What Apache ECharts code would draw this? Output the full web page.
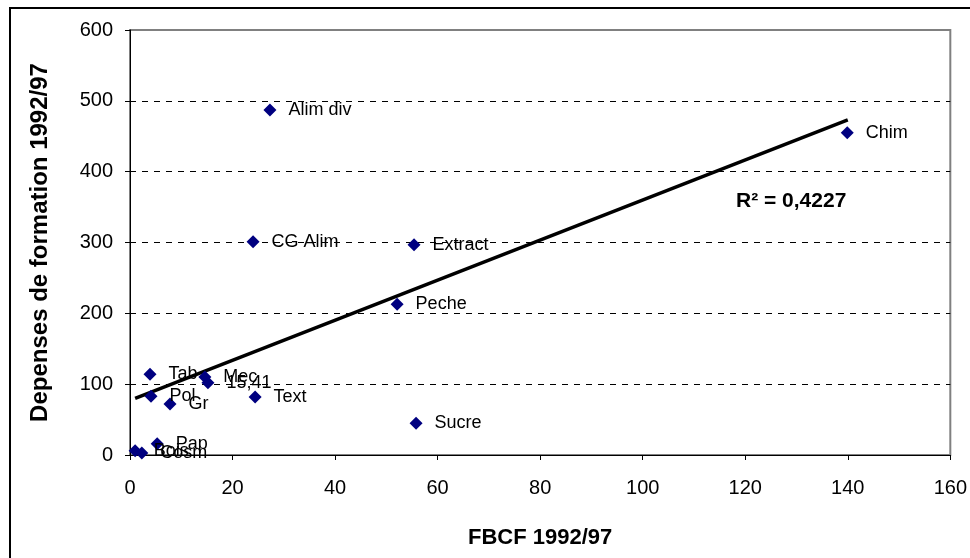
<!DOCTYPE html>
<html>
<head>
<meta charset="utf-8">
<script src="https://cdn.jsdelivr.net/npm/echarts@6/dist/echarts.min.js"></script>
<style>
html,body{margin:0;padding:0;background:#fff;}
#chart{width:970px;height:558px;}
</style>
</head>
<body>
<div id="chart"></div>
<script>
// Data
var sectorNames = ['Alim div','Chim','CG Alim','Extract','Peche','Sucre','Text','Tab','Pol','Gr','Mec','15,41','Pap','Bois','Cosm'];
var fbcfValues  = [27.3, 139.9, 24.0, 55.4, 52.1, 55.8, 24.4, 3.9, 4.1, 7.8, 14.6, 15.2, 5.3, 1.0, 2.3];
var depValues   = [487, 455, 301, 297, 213, 45, 82, 114, 83, 72, 110, 102, 16, 6, 3];
var trendX = [1, 140];
var trendY = [80, 473];
var r2Text = 'R² = 0,4227';
var xAxisName = 'FBCF 1992/97';
var yAxisName = 'Depenses de formation 1992/97';

var FONT = '"Liberation Sans", Arial, sans-serif';

var scatterData = sectorNames.map(function (n, i) {
  return { name: n, value: [fbcfValues[i], depValues[i]] };
});
var trendData = trendX.map(function (x, i) { return [x, trendY[i]]; });

var chart = echarts.init(document.getElementById('chart'), null, { renderer: 'canvas' });
chart.setOption({
  animation: false,
  backgroundColor: '#ffffff',
  textStyle: { fontFamily: FONT },
  grid: {
    left: 130, right: 19, top: 30, bottom: 103,
    show: true, borderColor: '#808080', borderWidth: 2, backgroundColor: 'transparent'
  },
  xAxis: {
    type: 'value', min: 0, max: 160, interval: 20,
    name: xAxisName, nameLocation: 'middle', nameGap: 72,
    nameTextStyle: { fontFamily: FONT, fontSize: 22, fontWeight: 'bold', color: '#000' },
    axisLine: { show: true, onZero: false, lineStyle: { color: '#000', width: 1 } },
    axisTick: { show: true, inside: false, length: 5, lineStyle: { color: '#000' } },
    axisLabel: { fontFamily: FONT, fontSize: 20, color: '#000', margin: 23 },
    splitLine: { show: false }
  },
  yAxis: {
    type: 'value', min: 0, max: 600, interval: 100,
    name: yAxisName, nameLocation: 'middle', nameGap: 78, nameRotate: 90,
    nameTextStyle: { fontFamily: FONT, fontSize: 24, fontWeight: 'bold', color: '#000' },
    axisLine: { show: true, onZero: false, lineStyle: { color: '#000', width: 1 } },
    axisTick: { show: true, inside: false, length: 5, lineStyle: { color: '#000' } },
    axisLabel: { fontFamily: FONT, fontSize: 20, color: '#000', margin: 17 },
    splitLine: {
      show: true,
      lineStyle: {
        color: ['rgba(0,0,0,0)', '#000', '#000', '#000', '#000', '#000', 'rgba(0,0,0,0)'],
        type: [6, 6], width: 1
      }
    }
  },
  graphic: [
    {
      type: 'rect', silent: true, z: 100,
      shape: { x: 10, y: 8, width: 1100, height: 700 },
      style: { fill: 'none', stroke: '#000', lineWidth: 2 }
    },
    {
      type: 'text', left: 736, top: 191, z: 100,
      style: { text: r2Text, fill: '#000', font: 'bold 21px ' + FONT }
    }
  ],
  series: [
    {
      type: 'line',
      data: trendData,
      symbol: 'none',
      lineStyle: { color: '#000', width: 3.5 },
      z: 2
    },
    {
      type: 'scatter',
      data: scatterData,
      symbol: 'diamond',
      symbolSize: 13,
      itemStyle: { color: '#000080', opacity: 1 },
      label: {
        show: true, position: 'right', distance: 12,
        formatter: '{b}', color: '#000', fontFamily: FONT, fontSize: 18
      },
      z: 3
    }
  ]
});
</script>
</body>
</html>
